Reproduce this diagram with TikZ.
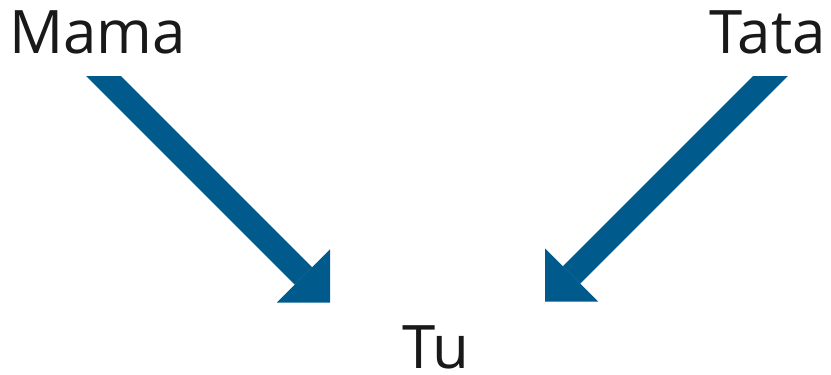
\documentclass[tikz,border=0pt]{standalone}
\usepackage{fontspec}
\setmainfont{Open Sans}
\usetikzlibrary{arrows.meta}
\definecolor{arrowblue}{RGB}{0,90,140}
\tikzset{
    word/.style={inner sep=0pt, font=\fontsize{30}{32}\selectfont, text=black!90},
    bigarrow/.style={arrowblue, line width=12.35pt,
        -{Triangle[length=18.75pt, width=37.5pt, line width=0pt]}}
}
\begin{document}
\begin{tikzpicture}[x=0.5pt, y=-0.5pt]
\useasboundingbox (0,0) rectangle (831,375);

\node[word, anchor=base west] (mama) at (9,54) {Mama};
\node[word, anchor=base east] (tata) at (826,54) {Tata};
\node[word, anchor=base] (tu) at (436,368) {Tu};

\coordinate (mstart) at (87.5,60);
\coordinate (mtip) at (330,302.5);
\coordinate (tstart) at (786.5,60);
\coordinate (ttip) at (545,301.5);

\begin{scope}
    \clip (0,76) rectangle (831,375);
    \draw[bigarrow] (mstart) -- (mtip);
    \draw[bigarrow] (tstart) -- (ttip);
\end{scope}
\end{tikzpicture}
\end{document}
